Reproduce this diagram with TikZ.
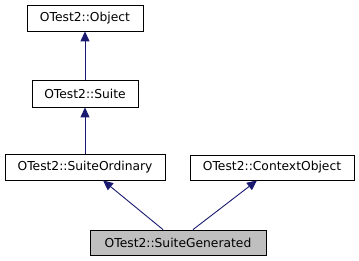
\documentclass[tikz,border=0pt]{standalone}
\usepackage{fontspec}
\setmainfont{DejaVu Sans}
\usetikzlibrary{arrows.meta}
\definecolor{edgeblue}{HTML}{191970}
\definecolor{curgray}{HTML}{BFBFBF}
\tikzset{
  cls/.style={draw=black, line width=0.8pt, fill=white, minimum height=26pt, inner sep=0pt, font=\fontsize{12.3}{14}\selectfont},
  current/.style={cls, fill=curgray},
  inherit/.style={draw=edgeblue, line width=0.9pt, -{Triangle[length=10pt,width=9pt]}},
}
\begin{document}
\begin{tikzpicture}[x=1pt, y=-1pt]
\useasboundingbox (0,0) rectangle (359,261);
% class boxes
\node[cls, minimum width=116pt] (object) at (85,18) {OTest2::Object};
\node[cls, minimum width=106pt, minimum height=27pt] (suite) at (85,93.5) {OTest2::Suite};
\node[cls, minimum width=160pt] (ordinary) at (85,167) {OTest2::SuiteOrdinary};
\node[cls, minimum width=164pt, minimum height=25pt] (context) at (272,167.5) {OTest2::ContextObject};
\node[current, minimum width=176pt, minimum height=25pt] (generated) at (178,242.5) {OTest2::SuiteGenerated};
% inheritance edges
\draw[inherit] (suite.north) -- (object.south);
\draw[inherit] (ordinary.north) -- (suite.south);
\draw[inherit] ([xshift=-15pt]generated.north) -- ([xshift=18pt]ordinary.south);
\draw[inherit] ([xshift=15pt]generated.north) -- ([xshift=-15pt]context.south);
\end{tikzpicture}
\end{document}
